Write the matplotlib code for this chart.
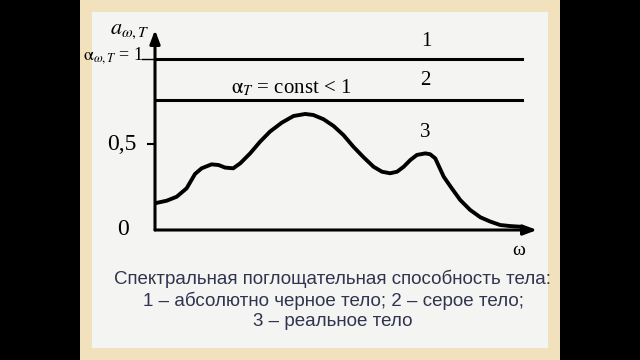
import matplotlib.pyplot as plt
from matplotlib.patches import Rectangle

omega = [0.0, 0.32, 0.59, 0.86, 1.09, 1.27, 1.54, 1.73, 1.91, 2.13, 2.32, 2.59,
         2.86, 3.13, 3.45, 3.77, 4.09, 4.31, 4.59, 4.86, 5.13, 5.40, 5.68, 5.95,
         6.18, 6.40, 6.59, 6.77, 6.95, 7.13, 7.36, 7.49, 7.63, 7.86, 8.08, 8.31,
         8.58, 8.86, 9.13, 9.40, 9.67, 9.95]
a_real = [0.156, 0.171, 0.194, 0.243, 0.327, 0.36, 0.383, 0.379, 0.364, 0.36, 0.389,
          0.447, 0.515, 0.574, 0.626, 0.665, 0.677, 0.671, 0.646, 0.607, 0.554, 0.486,
          0.424, 0.369, 0.340, 0.331, 0.340, 0.369, 0.408, 0.438, 0.447, 0.442, 0.418,
          0.311, 0.243, 0.175, 0.117, 0.074, 0.049, 0.029, 0.023, 0.019]
a_black = 1.0
a_gray = 0.76
omega_max = 10.0

caption = ["Спектральная поглощательная способность тела:",
           "1 – абсолютно черное тело; 2 – серое тело;",
           "3 – реальное тело"]

W, H = 640, 360
fig = plt.figure(figsize=(6.4, 3.6), dpi=100, facecolor="black")
fig.patches.append(Rectangle((80 / W, 0), 480 / W, 1, transform=fig.transFigure,
                             facecolor="#f1e2bd", edgecolor="none", zorder=-2))
fig.patches.append(Rectangle((92 / W, 1 - 348 / H), 456 / W, 336 / H,
                             transform=fig.transFigure, facecolor="#f4f4f3",
                             edgecolor="none", zorder=-1))

# axes box: x 155..537 px, y 230 (0) .. 30 px
x0, x1 = 155, 537
y0, y1 = 230, 30
ax = fig.add_axes([x0 / W, 1 - y0 / H, (x1 - x0) / W, (y0 - y1) / H])
ax.set_xlim(0, 10.4)
ax.set_ylim(0, (y0 - y1) / 171.4)
ax.patch.set_alpha(0)
for s in ax.spines.values():
    s.set_visible(False)
ax.set_xticks([])
ax.set_yticks([])

serif = "Liberation Serif"
lw = 2.2
ax.annotate("", xy=(0, ax.get_ylim()[1]), xytext=(0, 0),
            arrowprops=dict(arrowstyle="-|>,head_length=0.8,head_width=0.3",
                            color="black", lw=lw, shrinkA=0, shrinkB=0))
ax.annotate("", xy=(10.4, 0), xytext=(0, 0),
            arrowprops=dict(arrowstyle="-|>,head_length=0.8,head_width=0.3",
                            color="black", lw=lw, shrinkA=0, shrinkB=0))

ax.plot([0, omega_max], [a_black, a_black], color="black", lw=lw)
ax.plot([0, omega_max], [a_gray, a_gray], color="black", lw=lw)
ax.plot(omega, a_real, color="black", lw=2.8, solid_capstyle="round",
        solid_joinstyle="round")
ax.plot([-0.2, 0], [0.5, 0.5], color="black", lw=1.5, clip_on=False)
ax.plot([-0.35, 0], [1.0, 1.0], color="black", lw=1.0, clip_on=False)

ax.text(7.4, 1.1, "1", fontsize=15, family=serif, ha="center", va="center")
ax.text(7.35, 0.87, "2", fontsize=15, family=serif, ha="center", va="center")
ax.text(7.35, 0.57, "3", fontsize=15, family=serif, ha="center", va="center")
ax.text(3.7, 0.83, r"$\mathrm{\alpha}_{T}$ = const < 1", fontsize=15, family=serif,
        ha="center", va="center", math_fontfamily="stix")
ax.text(-0.5, 0.5, "0,5", fontsize=17, family=serif, ha="right", va="center")
ax.text(-0.7, 0.0, "0", fontsize=17, family=serif, ha="right", va="center")
ax.text(9.9, -0.12, "ω", fontsize=14, family=serif, ha="center", va="center")
ax.text(-0.15, 1.16, r"$a_{\omega,T}$", fontsize=16, ha="right", va="center",
        math_fontfamily="stix")
ax.text(-0.3, 1.02, r"$\mathrm{\alpha}_{\omega,T}$ = 1", fontsize=13, family=serif,
        ha="right", va="center", math_fontfamily="stix")

for i, line in enumerate(caption):
    fig.text(333 / W, 1 - (279 + i * 21.5) / H, line, fontsize=13.5,
             family="Liberation Sans", color="#30344e", ha="center", va="center")

fig.savefig("out.png", dpi=100, facecolor="black")
